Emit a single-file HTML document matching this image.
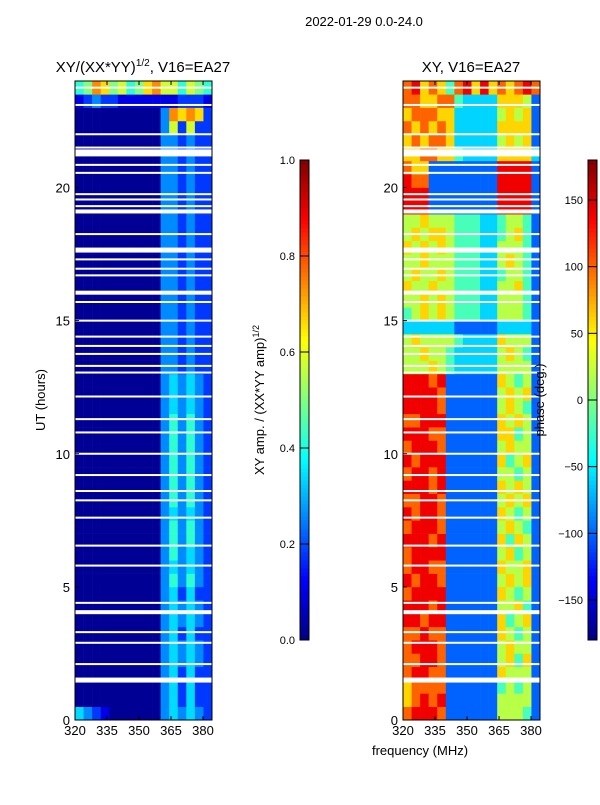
<!DOCTYPE html>
<html><head><meta charset="utf-8"><style>
body{margin:0;background:#fff;}
svg text{font-family:"Liberation Sans","DejaVu Sans",sans-serif;fill:#000;}
</style></head><body>
<svg id="fig" width="600" height="800" viewBox="0 0 600 800" xmlns="http://www.w3.org/2000/svg">
<text x="364" y="26" font-size="13" text-anchor="middle">2022-01-29 0.0-24.0</text>
<text x="143" y="72" font-size="15" text-anchor="middle">XY/(XX*YY)<tspan dy="-6" font-size="10">1/2</tspan><tspan dy="6">, V16=EA27</tspan></text>
<text x="471" y="72" font-size="15" text-anchor="middle">XY, V16=EA27</text>
<text x="45" y="400" font-size="13" text-anchor="middle" transform="rotate(-90 45 400)">UT (hours)</text>
<text x="420" y="755" font-size="13" text-anchor="middle">frequency (MHz)</text>
<text x="264" y="400" font-size="13" text-anchor="middle" transform="rotate(-90 264 400)">XY amp. / (XX*YY amp)<tspan dy="-5" font-size="9">1/2</tspan></text>
<g id="layer"></g>
<text x="544" y="400" font-size="13" text-anchor="middle" transform="rotate(-90 544 400)">phase (deg.)</text>
</svg>
<script>
// ---- data ----
const freqRange = [320, 384.2];
const timeRange = [0, 24];
const xTicks = [320, 335, 350, 365, 380];
const yTicks = [0, 5, 10, 15, 20];
const ampTicks = [0.0, 0.2, 0.4, 0.6, 0.8, 1.0];
const phaseTicks = [-150, -100, -50, 0, 50, 100, 150];
// amplitude grid: rows = 0.5 h from 0h upward, 16 freq channels (4 MHz), digit d -> 0.02 + 0.08*d
const ampRows = [
"4321000000343432","0000000000342422","0000000000342422","0000000000342422",
"0000000000343432","0000000000343432","0000000000342422","0000000000343432",
"0000000000343432","0000000000342422","0000000000353532","0000000000343432",
"0000000000353432","0000000000353532","0000000000353532","0000000000343432",
"0000000000353532","0000000000353532","0000000000353532","0000000000353532",
"0000000000353532","0000000000353532","0000000000353532","0000000000343432",
"0000000000343432","0000000000343432","0000000000332322","0000000000332322",
"0000000000332322","0000000000332322","0000000000332322","0000000000332322",
"0000000000332322","0000000000332322","0000000000332322","0000000000332322",
"0000000000332322","0000000000332322","0000000000332322","0000000000332322",
"0000000000332322","0000000000332322","0000000000332322","0000000000332322",
"0000000000372722","0000000000398982","1232211111112221","5698675689775765"
];
// phase grid: digit d -> fraction d/9 of -180..180
const phaseRows = [
"7888722222255542","6787822222255552","6777722222245452","7887722222265552",
"7788722222256462","7888722222256552","7787722222265452","8878822222264562",
"8887822222255642","7888822222265452","8788722222256562","7887722222265562",
"7888822222256452","8887822222264652","7888722222256542","8788722222265452",
"7788722222256562","8887822222265652","7887822222255452","8788822222264562",
"7888722222256552","8887722222266452","7788822222265652","8888722222256542",
"8888722222256562","8887822222265452","5556543333355552","5565543333356542",
"5655554333365552","3333332222233332","4565654443355542","5565654443355542",
"6556554443355642","5655654443345542","5565554443356542","6565654443355542",
"5656654443345642","5565554443345542","8882222222288882","8882222222288882",
"8772222222288882","7662222222288882","6677664333366663","6767763333356562",
"7676763333366662","6777663333356562","7766774333366652","7867647868676787"
];
// white gaps: UT hour centre and height in pixels
const gapHours = [1.5,2.1,2.9,3.3,4.05,4.4,5.8,6.55,7.6,8.25,8.6,9.2,10,10.8,11.3,12.15,13.05,13.3,13.75,14.05,14.4,15,15.7,16.05,16.7,16.95,17.3,17.65,18.25,19.1,19.3,19.55,19.75,20.55,20.85,21.3,21.5,22,23.1,23.75];
const gapSizes = [5,2,2,2,4,2,2,2,2,2,2,2,2,2,2,2,2,2,2,2,2,2,2,4,2,2,2,5,2,4,2,2,2,2,2,7,2,2,2,2];

// ---- helpers ----
const NS = "http://www.w3.org/2000/svg";
const layer = document.getElementById('layer');
function jet(v){
  v=Math.max(0,Math.min(1,v));
  const f=(a)=>Math.max(0,Math.min(1,1.5-Math.abs(4*v-a)));
  return `rgb(${Math.round(255*f(3))},${Math.round(255*f(2))},${Math.round(255*f(1))})`;
}
function mk(tag, attrs){
  const e=document.createElementNS(NS,tag);
  for(const k in attrs) e.setAttribute(k,attrs[k]);
  layer.appendChild(e);
  return e;
}
const yTop=81, yBot=720;
function yScale(h){ return yBot-(h-timeRange[0])/(timeRange[1]-timeRange[0])*(yBot-yTop); }
function makeX(x0,x1){ return f=>x0+(f-freqRange[0])/(freqRange[1]-freqRange[0])*(x1-x0); }

function panel(name, x0, x1, rows, valFn){
  const xs=makeX(x0,x1);
  const nC=rows[0].length, df=(freqRange[1]-freqRange[0])/nC;
  rows.forEach((row,ri)=>{
    for(let c=0;c<nC;c++){
      const d=parseInt(row[c],10);
      const xa=xs(freqRange[0]+c*df), xb=xs(freqRange[0]+(c+1)*df);
      const ya=yScale(ri*0.5+0.5), yb=yScale(ri*0.5);
      const r=mk('rect',{x:xa.toFixed(2),y:ya.toFixed(2),width:(xb-xa+0.3).toFixed(2),height:(yb-ya+0.3).toFixed(2),fill:jet(valFn(d))});
      
      
    }
  });
  gapHours.forEach((h,i)=>{
    const y=yScale(h), s=gapSizes[i];
    const g=mk('rect',{x:x0,y:(y-s/2).toFixed(2),width:x1-x0,height:s,fill:'#fff'});
    
    
  });
  const fr=mk('rect',{x:x0,y:yTop,width:x1-x0,height:yBot-yTop,fill:'none',stroke:'#000','stroke-width':1});
  
  
  xTicks.forEach(t=>{
    const x=xs(t);
    const l=mk('line',{x1:x,y1:yBot,x2:x,y2:yBot-4,stroke:'#000'});
    
    
    const l2=mk('line',{x1:x,y1:yTop,x2:x,y2:yTop+4,stroke:'#000'});
    
    
    const tx=mk('text',{x:x,y:yBot+15,'font-size':13,'text-anchor':'middle'});
    tx.textContent=t;
    
    
  });
  yTicks.forEach(t=>{
    const y=yScale(t);
    const l=mk('line',{x1:x0,y1:y,x2:x0+4,y2:y,stroke:'#000'});
    
    
    const tx=mk('text',{x:x0-5,y:y+5,'font-size':13,'text-anchor':'end'});
    tx.textContent=t;
    
    
  });
}
panel('amp-heatmap',75,212,ampRows,d=>0.02+0.08*d);
panel('phase-heatmap',403,540,phaseRows,d=>d/9);

function colorbar(name,x0,w,vmin,vmax,ticks,fmt){
  const yt=160,yb=640,n=120;
  for(let i=0;i<n;i++){
    const ya=yb-(i+1)*(yb-yt)/n;
    const r=mk('rect',{x:x0,y:ya.toFixed(2),width:w,height:((yb-yt)/n+0.4).toFixed(2),fill:jet((i+0.5)/n)});
    
    
  }
  const fr=mk('rect',{x:x0,y:yt,width:w,height:yb-yt,fill:'none',stroke:'#000'});
  
  
  ticks.forEach(t=>{
    const y=yb-(t-vmin)/(vmax-vmin)*(yb-yt);
    const l=mk('line',{x1:x0,y1:y,x2:x0+w,y2:y,stroke:'#000'});
    
    
    const tx=mk('text',{x:x0-5,y:y+4,'font-size':11,'text-anchor':'end'});
    tx.textContent=fmt(t);
    
    
  });
}
colorbar('amp-colorbar',300,9,0,1,ampTicks,t=>t.toFixed(1));
colorbar('phase-colorbar',588,9,-180,180,phaseTicks,t=>t<0?'\u2212'+Math.abs(t):String(t));
</script>
</body></html>
